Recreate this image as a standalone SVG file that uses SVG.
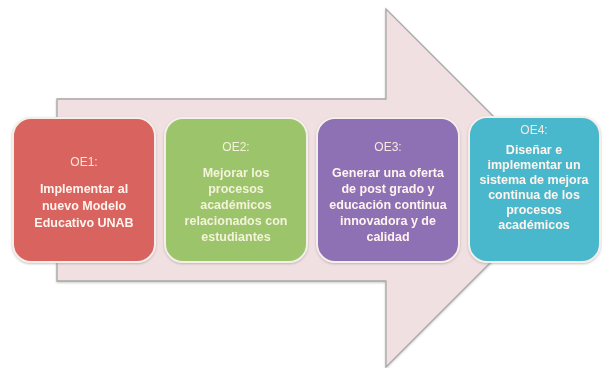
<svg xmlns="http://www.w3.org/2000/svg" width="602" height="368" viewBox="0 0 602 368">
<style>
.box{stroke:#f6efe9;stroke-width:2}
.hd{font-family:"Liberation Sans",Arial,sans-serif;font-size:12px;fill:#fbe6de;text-anchor:middle}
.tx{font-family:"Liberation Sans",Arial,sans-serif;font-size:12.5px;font-weight:bold;fill:#fff4ee;text-anchor:middle}
.g .hd,.g .tx{fill:#f4f2dc}
</style>
<defs>
<filter id="sh" x="-10%" y="-10%" width="120%" height="120%">
<feDropShadow dx="0" dy="1" stdDeviation="1.2" flood-color="#888" flood-opacity="0.5"/>
</filter>
</defs>
<rect width="602" height="368" fill="#ffffff"/>
<g id="arrow">
<path d="M57,99 H386 V9 L565,188 L386,367 V281 H57 Z" fill="#f1e0e2" stroke="#a8a8a8" stroke-width="1.3" filter="url(#sh)"/>
</g>
<g id="oe1" filter="url(#sh)">
<rect class="box" x="13" y="118" width="142" height="144" rx="18" fill="#d8635e"/>
<text class="hd" x="84" y="166">OE1:</text>
<text class="tx" x="84" y="193">Implementar al</text>
<text class="tx" x="84" y="210">nuevo Modelo</text>
<text class="tx" x="84" y="227">Educativo UNAB</text>
</g>
<g id="oe2" class="g" filter="url(#sh)">
<rect class="box" x="165" y="118" width="142" height="144" rx="18" fill="#9cc46b"/>
<text class="hd" x="236" y="151">OE2:</text>
<text class="tx" x="236" y="177">Mejorar los</text>
<text class="tx" x="236" y="193">procesos</text>
<text class="tx" x="236" y="209">académicos</text>
<text class="tx" x="236" y="225">relacionados con</text>
<text class="tx" x="236" y="241">estudiantes</text>
</g>
<g id="oe3" filter="url(#sh)">
<rect class="box" x="317" y="118" width="142" height="144" rx="18" fill="#8e70b4"/>
<text class="hd" x="388" y="151">OE3:</text>
<text class="tx" x="388" y="177">Generar una oferta</text>
<text class="tx" x="388" y="193">de post grado y</text>
<text class="tx" x="388" y="209">educación continua</text>
<text class="tx" x="388" y="225">innovadora y de</text>
<text class="tx" x="388" y="241">calidad</text>
</g>
<g id="oe4" filter="url(#sh)">
<rect class="box" x="469" y="117" width="131" height="145" rx="18" fill="#49b7cc"/>
<text class="hd" x="534" y="134">OE4:</text>
<text class="tx" x="534" y="154">Diseñar e</text>
<text class="tx" x="534" y="169">implementar un</text>
<text class="tx" x="534" y="184">sistema de mejora</text>
<text class="tx" x="534" y="199">continua de los</text>
<text class="tx" x="534" y="214">procesos</text>
<text class="tx" x="534" y="229">académicos</text>
</g>
<g id="connectors"></g>
</svg>
